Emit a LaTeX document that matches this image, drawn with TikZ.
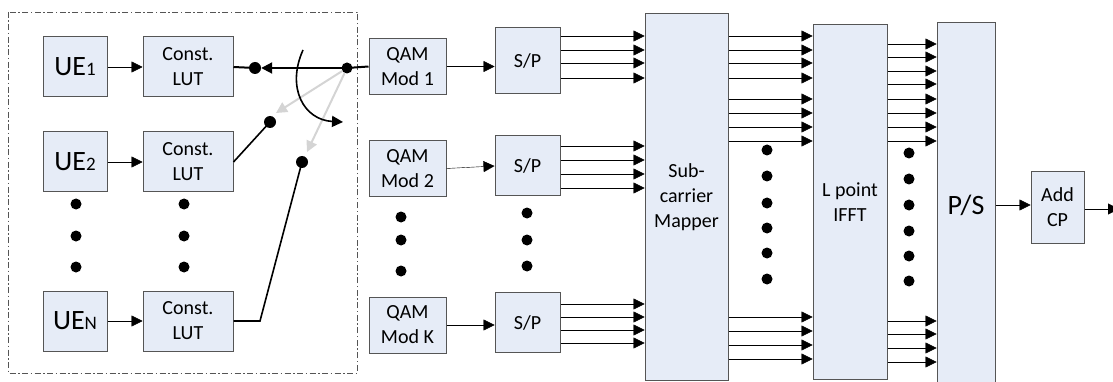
\documentclass[tikz,border=0pt]{standalone}
\usepackage{fontspec}
\setmainfont{Carlito}
\usetikzlibrary{arrows.meta}

\definecolor{boxfill}{RGB}{230,236,247}
\definecolor{boxline}{RGB}{85,85,85}
\definecolor{swgrey}{RGB}{212,212,212}

\newcommand\ueidx[1]{{\fontsize{19}{19}\selectfont #1}}

\tikzset{
  blk/.style={draw=boxline, fill=boxfill, line width=1pt, align=center, inner sep=0pt,
    font=\fontsize{20}{25}\selectfont},
  uebox/.style={blk, minimum width=64pt, minimum height=60pt, font=\fontsize{28}{32}\selectfont},
  lutbox/.style={blk, minimum width=90pt, minimum height=60pt},
  qambox/.style={blk, minimum width=77pt, minimum height=56pt},
  spbox/.style={blk, minimum width=65pt, minimum height=60pt},
  tallbox/.style={blk, minimum height=#1},
  sdot/.style={circle, fill=black, inner sep=0pt, minimum size=12pt},
  vdot/.style={circle, fill=black, inner sep=0pt, minimum size=11pt},
  thick line/.style={line width=2pt},
  >={Triangle[length=11pt,width=11pt]}
}

\begin{document}
\begin{tikzpicture}[x=1pt, y=-1pt]

  \useasboundingbox (0,0) rectangle (1113,382);
  \clip (0,0) rectangle (1113,382);

  %% user side
  \draw[boxline, line width=0.8pt, dash pattern=on 6pt off 2.5pt on 1.5pt off 2.5pt]
    (8,12) rectangle (357,373);

  \node[uebox] (ue1) at (75,67) {UE\ueidx{1}};
  \node[uebox] (ue2) at (75,162) {UE\ueidx{2}};
  \node[uebox] (ueN) at (75,321) {UE\ueidx{N}};

  \node[lutbox] (lut1) at (188,67) {Const.\\LUT};
  \node[lutbox] (lut2) at (188,162) {Const.\\LUT};
  \node[lutbox] (lutN) at (188,321) {Const.\\LUT};

  \foreach \y in {204,236,267} {
    \node[vdot] at (76,\y) {};
    \node[vdot] at (184,\y) {};
  }

  \draw[->] (ue1) -- (lut1);
  \draw[->] (ue2) -- (lut2);
  \draw[->] (ueN) -- (lutN);

  %% switch
  \node[sdot] (s1) at (255,68) {};
  \node[sdot] (s2) at (270,122) {};
  \node[sdot] (s3) at (302,162) {};
  \node[sdot, minimum size=11pt] (piv) at (347,68) {};
  \coordinate (bend) at (260,321);
  \coordinate (g1) at (276,113);
  \coordinate (g2) at (307,152);
  \coordinate (c1) at (303,50);
  \coordinate (c2) at (343,122);

  \draw[thick line] (lut1.east) -- (s1.center);
  \draw[line width=1.6pt] (lut2.east) -- (s2.center);
  \draw[line width=1.6pt] (lutN.east) -- (bend) -- (s3.center);
  \draw[swgrey, line width=2pt, ->] (piv) -- (g1);
  \draw[swgrey, line width=2pt, ->] (piv) -- (g2);
  \draw[line width=1.6pt, ->] (c1) .. controls (286,88) and (304,120) .. (c2);

  %% modulators
  \node[qambox] (qam1) at (407.5,66.5) {QAM\\Mod 1};
  \node[qambox] (qam2) at (407.5,168.5) {QAM\\Mod 2};
  \node[qambox] (qamK) at (407.5,325) {QAM\\Mod K};
  \foreach \y in {217,240,271}
    \node[vdot] at (401,\y) {};

  \draw[thick line] (qam1.west) -- (piv.center);
  \draw[thick line, ->] (piv.center) -- (s1.east); %% pivot->UE1

  \node[spbox, minimum height=66pt] (sp1) at (527.5,61) {S/P};
  \node[spbox] (sp2) at (527.5,166) {S/P};
  \node[spbox] (spK) at (527.5,322.5) {S/P};
  \foreach \y in {213,240,266}
    \node[vdot] at (527,\y) {};

  \draw[->] (qam1) -- (sp1.west |- qam1);
  \draw[->] (qam2.east) -- (sp2.west);
  \draw[->] (qamK) -- (spK.west |- qamK);

  %% mapper, IFFT, P/S
  \node[tallbox=366pt, minimum width=83pt] (map) at (686.5,197) {Sub-\\carrier\\Mapper};
  \node[tallbox=354pt, minimum width=74pt] (ifft) at (850,202) {L point\\IFFT};
  \node[tallbox=372pt, minimum width=58pt] (ps) at (966,209) {};
  \node[font=\fontsize{28}{32}\selectfont] (pslbl) at (966,205) {P/S};

  \foreach \y in {36,50,63,78}
    \draw[->] (sp1.east |- 0,\y) -- (map.west |- 0,\y);
  \foreach \y in {146,160,174,188}
    \draw[->] (sp2.east |- 0,\y) -- (map.west |- 0,\y);
  \foreach \y in {304,317,330,343}
    \draw[->] (spK.east |- 0,\y) -- (map.west |- 0,\y);

  \foreach \y in {36,50,63,78,99,113,127,141,317,331,345,359}
    \draw[->] (map.east |- 0,\y) -- (ifft.west |- 0,\y);
  \foreach \y in {150,176,203,228,253,279}
    \node[vdot] at (767,\y) {};

  \foreach \y in {44,57,71,84,99,113,127,141,321,334,348,362}
    \draw[->] (ifft.east |- 0,\y) -- (ps.west |- 0,\y);
  \foreach \y in {153,179,205,231,256,281}
    \node[vdot] at (909,\y) {};

  %% cyclic prefix
  \node[blk, minimum width=53pt, minimum height=71pt] (cp) at (1057.5,207.5) {Add\\CP};
  \coordinate (out) at (1119,209);
  \draw[->] (ps.east |- pslbl) -- (cp.west |- pslbl);
  \draw[->] (cp.east |- out) -- (out);

\end{tikzpicture}
\end{document}
